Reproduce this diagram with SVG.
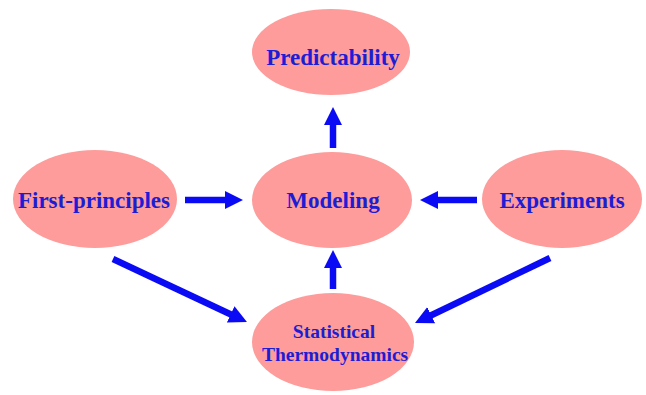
<svg xmlns="http://www.w3.org/2000/svg" width="646" height="395" viewBox="0 0 646 395">
<style>
.node ellipse{fill:#fd9c9a;}
.node text{font-family:"Liberation Serif","Times New Roman",serif;font-weight:bold;fill:#1d1dd4;text-anchor:middle;font-size:23px;}
.node text.small{font-size:19.5px;}
.conn line{stroke:#0a0af5;stroke-width:6.5;fill:none;marker-end:url(#ah);}
</style>
<defs>
<marker id="ah" markerUnits="userSpaceOnUse" viewBox="0 0 18 18" refX="8" refY="9" markerWidth="18" markerHeight="18" orient="auto">
<path d="M0,0 L18,9 L0,18 z" fill="#0a0af5"/>
</marker>
</defs>
<rect width="646" height="395" fill="#ffffff"/>
<g id="predictability" class="node"><ellipse cx="331" cy="52" rx="79" ry="43"/><text x="333" y="65">Predictability</text></g>
<g id="first-principles" class="node"><ellipse cx="95" cy="199" rx="82" ry="49"/><text x="94" y="208">First-principles</text></g>
<g id="modeling" class="node"><ellipse cx="332" cy="200" rx="80" ry="48"/><text x="333" y="208">Modeling</text></g>
<g id="experiments" class="node"><ellipse cx="562" cy="199" rx="80" ry="49"/><text x="562" y="208">Experiments</text></g>
<g id="statistical-thermodynamics" class="node"><ellipse cx="333" cy="342" rx="81" ry="49"/><text class="small" x="334" y="338">Statistical</text><text class="small" x="335" y="361">Thermodynamics</text></g>
<g id="connectors" class="conn">
<line x1="333" y1="148" x2="333" y2="117"/>
<line x1="185" y1="200" x2="233" y2="200"/>
<line x1="477" y1="200" x2="430" y2="200"/>
<line x1="333" y1="289" x2="333" y2="260"/>
<line x1="113" y1="259" x2="237.9" y2="317.8"/>
<line x1="550" y1="258" x2="424" y2="318.7"/>
</g>
</svg>
